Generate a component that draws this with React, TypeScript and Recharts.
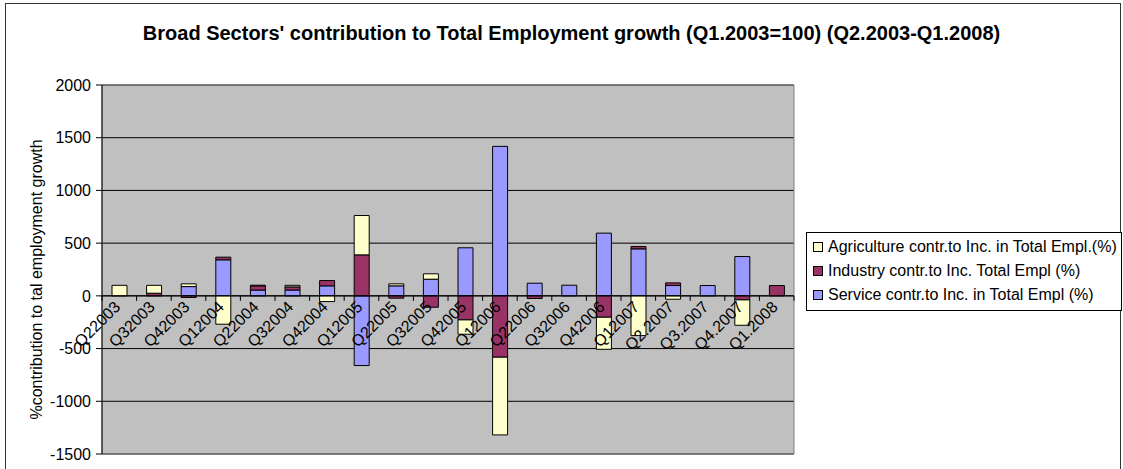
import React from 'react';
import {
  BarChart,
  Bar,
  XAxis,
  YAxis,
  CartesianGrid,
  ReferenceArea,
  ReferenceLine,
} from 'recharts';

const QUARTERS = [
  'Q22003', 'Q32003', 'Q42003', 'Q12004', 'Q22004', 'Q32004', 'Q42004',
  'Q12005', 'Q22005', 'Q32005', 'Q42005', 'Q12006', 'Q22006', 'Q32006',
  'Q42006', 'Q12007', 'Q2.2007', 'Q3.2007', 'Q4.2007', 'Q1.2008',
];

const SERVICE = [0, 0, 88, 342, 55, 55, 95, -661, 95, 158, 456, 1418, 120, 101, 595, 446, 98, 98, 373, 0];
const INDUSTRY = [0, 25, -16, 25, 40, 30, 50, 389, -22, -108, -228, -582, -25, 0, -203, 22, 25, 0, -38, 98];
const AGRICULTURE = [100, 75, 26, -269, 6, 15, -54, 373, 19, 51, -136, -737, 0, 0, -304, -377, -32, 0, -241, 0];

const Y_TICKS = [-1500, -1000, -500, 0, 500, 1000, 1500, 2000];

// legend order as in the original (top of stack first)
const SERIES = [
  { key: 'agri', name: 'Agriculture contr.to Inc. in Total Empl.(%)', color: '#FFFFCC' },
  { key: 'ind', name: 'Industry contr.to Inc. Total Empl (%)', color: '#993366' },
  { key: 'serv', name: 'Service contr.to Inc. in Total Empl (%)', color: '#9999FF' },
];

const data = QUARTERS.map((q, i) => ({
  q,
  serv: SERVICE[i],
  ind: INDUSTRY[i],
  agri: AGRICULTURE[i],
}));

// layout
const W = 1123;
const H = 469;
const PLOT_LEFT = 102;
const PLOT_RIGHT = 794;
const PLOT_TOP = 85;
const PLOT_BOTTOM = 454;
const Y_MIN = -1500;
const Y_MAX = 2000;
const FONT = 'Arial, "Liberation Sans", sans-serif';

const BAND = (PLOT_RIGHT - PLOT_LEFT) / QUARTERS.length;
const ZERO_Y = PLOT_TOP + ((Y_MAX - 0) / (Y_MAX - Y_MIN)) * (PLOT_BOTTOM - PLOT_TOP);

// category labels sit on the zero line, like Excel does
const CategoryTick = (props: any) => {
  const { x, payload, index } = props;
  const half = BAND / 2;
  const ty = ZERO_Y + 12;
  return (
    <g>
      <line x1={x - half} y1={ZERO_Y} x2={x - half} y2={ZERO_Y + 5} stroke="#000" />
      {index === QUARTERS.length - 1 && (
        <line x1={x + half} y1={ZERO_Y} x2={x + half} y2={ZERO_Y + 5} stroke="#000" />
      )}
      <text
        x={x + 2}
        y={ty}
        transform={`rotate(-45, ${x + 2}, ${ty})`}
        textAnchor="end"
        fontSize={16}
        fontFamily={FONT}
        fill="#000"
      >
        {payload.value}
      </text>
    </g>
  );
};

const YTitle = (props: any) => {
  const { viewBox } = props;
  const cx = viewBox.x + 12;
  const cy = viewBox.y + viewBox.height / 2 + 10;
  return (
    <text
      x={cx}
      y={cy}
      transform={`rotate(-90, ${cx}, ${cy})`}
      textAnchor="middle"
      dominantBaseline="central"
      fontSize={16}
      fontFamily={FONT}
      fill="#000"
    >
      %contribution to tal employment growth
    </text>
  );
};

const LegendBox = () => (
  <div
    style={{
      position: 'absolute',
      left: 806,
      top: 232,
      border: '1px solid #000',
      background: '#fff',
      padding: '2px 4px 3px 6px',
      fontFamily: FONT,
      fontSize: 16,
      color: '#000',
    }}
  >
    {SERIES.map((s) => (
      <div key={s.key} style={{ display: 'flex', alignItems: 'center', height: 24, whiteSpace: 'nowrap' }}>
        <span
          style={{
            display: 'inline-block',
            width: 8,
            height: 8,
            background: s.color,
            border: '1px solid #000',
            marginRight: 5,
          }}
        />
        {s.name}
      </div>
    ))}
  </div>
);

export default function App() {
  return (
    <div style={{ position: 'relative', width: W, height: H, background: '#fff', overflow: 'hidden' }}>
      <style>{`body { margin: 0; }`}</style>
      <div
        style={{
          position: 'absolute',
          left: 5,
          top: 3,
          width: 1114,
          height: 500,
          border: '1px solid #333',
        }}
      />
      <div
        style={{
          position: 'absolute',
          left: 0,
          width: W,
          top: 22,
          textAlign: 'center',
          fontFamily: FONT,
          fontWeight: 'bold',
          fontSize: 20,
          paddingLeft: 20,
          boxSizing: 'border-box',
        }}
      >
        Broad Sectors' contribution to Total Employment growth (Q1.2003=100) (Q2.2003-Q1.2008)
      </div>
      <div style={{ position: 'absolute', left: 0, top: 0 }}>
        <BarChart
          width={W}
          height={H}
          data={data}
          stackOffset="sign"
          barSize={15}
          margin={{ top: PLOT_TOP, right: W - PLOT_RIGHT, bottom: H - PLOT_BOTTOM - 1, left: 24 }}
        >
          <CartesianGrid vertical={false} stroke="#000" fill="#C0C0C0" fillOpacity={1} />
          <ReferenceArea y1={Y_MIN} y2={Y_MAX} fill="none" stroke="#808080" strokeWidth={1} />
          <XAxis
            dataKey="q"
            height={1}
            axisLine={false}
            tickLine={false}
            interval={0}
            tick={<CategoryTick />}
          />
          <YAxis
            width={78}
            domain={[Y_MIN, Y_MAX]}
            ticks={Y_TICKS}
            interval={0}
            allowDataOverflow
            axisLine={{ stroke: '#000' }}
            tickLine={{ stroke: '#000' }}
            tickSize={6}
            tickMargin={5}
            tick={{ fontSize: 16, fontFamily: FONT, fill: '#000' }}
            label={<YTitle />}
          />
          <ReferenceLine y={0} stroke="#000" />
          <Bar dataKey="serv" name={SERIES[2].name} stackId="a" fill="#9999FF" stroke="#000" strokeWidth={1} isAnimationActive={false} />
          <Bar dataKey="ind" name={SERIES[1].name} stackId="a" fill="#993366" stroke="#000" strokeWidth={1} isAnimationActive={false} />
          <Bar dataKey="agri" name={SERIES[0].name} stackId="a" fill="#FFFFCC" stroke="#000" strokeWidth={1} isAnimationActive={false} />
        </BarChart>
      </div>
      <LegendBox />
    </div>
  );
}
